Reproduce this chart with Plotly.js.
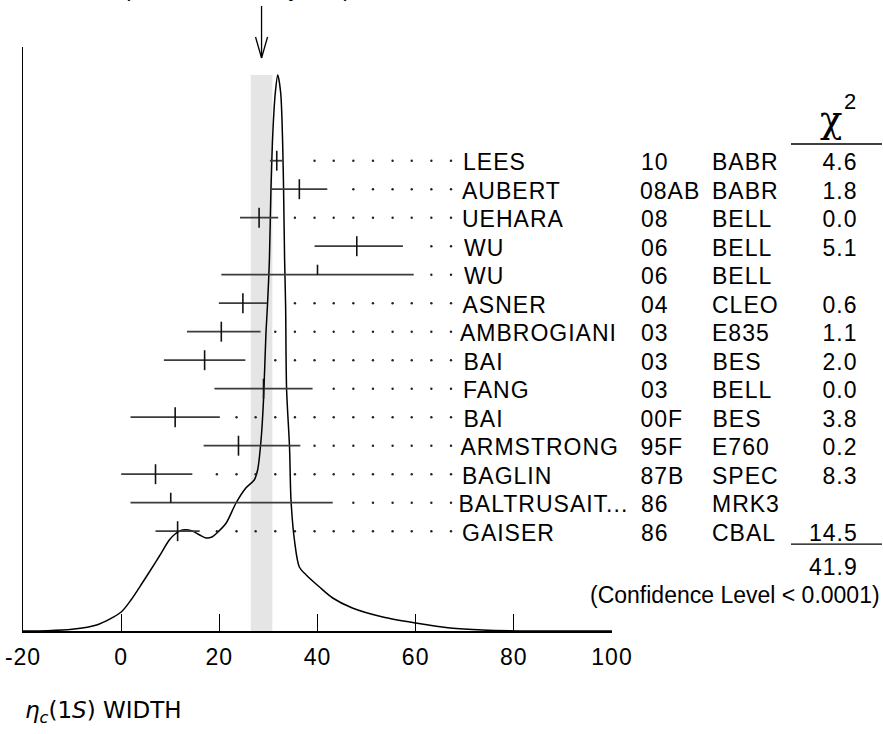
<!DOCTYPE html>
<html>
<head>
<meta charset="utf-8">
<script src="https://cdn.plot.ly/plotly-3.0.1.min.js"></script>
<style>html,body{margin:0;padding:0;background:#fff;}#chart{width:883px;height:734px;}</style>
</head>
<body>
<div id="chart"></div>
<script>
// ---------------- data ----------------
const names = ["LEES","AUBERT","UEHARA","WU","WU","ASNER","AMBROGIANI","BAI","FANG","BAI","ARMSTRONG","BAGLIN","BALTRUSAIT...","GAISER"];
const years = ["10","08AB","08","06","06","04","03","03","03","00F","95F","87B","86","86"];
const expts = ["BABR","BABR","BELL","BELL","BELL","CLEO","E835","BES","BELL","BES","E760","SPEC","MRK3","CBAL"];
const chi2 = ["4.6","1.8","0.0","5.1","","0.6","1.1","2.0","0.0","3.8","0.2","8.3","","14.5"];
const values   = [31.7, 36.3, 28.1, 48.0, 40.0, 24.8, 20.4, 17.0, 29.0, 11.0, 23.9, 7.0, 10.1, 11.5];
const errMinus = [1.4,  5.7,  3.9,  8.6, 19.6,  4.9,  7.0,  8.3, 10.0,  9.1,  7.1, 7.0,  8.2,  4.5];
const errPlus  = [1.4,  5.7,  3.9,  9.4, 19.6,  4.9,  8.0,  8.3, 10.0,  9.1, 12.6, 7.5, 33.0,  4.5];
const usedInFit = [1,1,1,1,0,1,1,1,1,1,1,1,0,1];
const avgValue = 28.6;
const avgError = 2.2;
const chi2Total = "41.9";
const confText = "(Confidence Level &lt; 0.0001)";
const avgText = "28.6±2.2 (Error scaled by 1.9)";
const xTickVals = [-20, 0, 20, 40, 60, 80, 100];
const xTickText = ["-20", "0", "20", "40", "60", "80", "100"];
const leaderGrid = [19.5, 23.5, 27.4, 31.4, 35.4, 39.4, 43.3, 47.3, 51.3, 55.3, 59.2, 63.2, 67.2];
// ideogram curve
const curveX = [-20, -15, -10, -5, 0, 2.0, 4.3, 6.0, 7.8, 9.8, 11.0, 12.5, 14.5, 16.0, 17.3, 18.5, 19.5, 21.4, 23.4, 25.4, 27.1, 27.8, 28.5, 29.0, 29.5, 29.8, 30.2, 30.5, 30.9, 31.4, 31.9, 32.5, 32.9, 33.1, 33.3, 33.5, 33.7, 34.3, 34.6, 35.3, 36.3, 37.7, 40.4, 43.1, 47.1, 53.3, 60, 67, 73.7, 84, 100];
const curveY = [0, 0.3, 1.7, 6, 19, 31, 48, 61, 75, 91, 97, 101, 100, 96, 93, 94, 98, 108, 128, 143, 151, 161, 191, 231, 298, 325, 371, 438, 498, 538, 556, 538, 488, 438, 371, 326, 242, 184, 131, 91, 64, 56, 44, 33, 23, 14, 8, 3, 1, 0, 0];

// ---------------- geometry helpers ----------------
const L = 23, R = 612, T = 47, B = 631;
const W = 883, H = 734;
const px2paperX = p => (p - L) / (R - L);
const px2paperY = p => (B - p) / (B - T);
const rowTop = (T - 160.7) / 28.5;
const rowBottom = rowTop + (B - T) / 28.5;

const font = "Liberation Sans, Arial, Helvetica, sans-serif";

// bars, ticks, dots
const bx = [], by = [], tx = [], ty = [], dx = [], dy = [];
values.forEach((v, i) => {
  const lo = v - errMinus[i], hi = v + errPlus[i];
  bx.push(lo, hi, null); by.push(i, i, null);
  tx.push(v, v, null); ty.push(i - 0.35, usedInFit[i] ? i + 0.35 : i, null);
  leaderGrid.forEach(g => { if (g > hi + 2.5) { dx.push(g); dy.push(i); } });
});

const traces = [
  {x: bx, y: by, yaxis: 'y2', mode: 'lines', line: {color: '#3c3c3c', width: 1.8}, hoverinfo: 'skip', showlegend: false},
  {x: tx, y: ty, yaxis: 'y2', mode: 'lines', line: {color: '#111', width: 1.6}, hoverinfo: 'skip', showlegend: false},
  {x: dx, y: dy, yaxis: 'y2', mode: 'markers', marker: {color: '#222', size: 2.4}, hoverinfo: 'skip', showlegend: false},
  {x: curveX, y: curveY, mode: 'lines', line: {color: '#000', width: 1.5, shape: 'spline', smoothing: 0.8}, hoverinfo: 'skip', showlegend: false}
];

const annotations = [];
const addText = (text, x, y, xanchor, opts = {}) => {
  annotations.push(Object.assign({
    text, x, y, xref: 'paper', yref: 'y2', xanchor, yanchor: 'middle', showarrow: false,
    font: {family: font, size: 23, color: '#000'}
  }, opts));
};
names.forEach((n, i) => {
  addText(n, px2paperX(463), i + 0.05, 'left');
  addText(years[i], px2paperX(640), i + 0.05, 'left');
  addText(expts[i], px2paperX(712), i + 0.05, 'left');
  if (chi2[i]) addText(chi2[i], px2paperX(858), i + 0.05, 'right');
});
addText(chi2Total, px2paperX(858), 14.25, 'right');
addText(confText, px2paperX(882), 15.23, 'right');
// chi^2 header
addText("χ", px2paperX(831), -1.45, 'center', {font: {family: "DejaVu Serif, Liberation Serif, serif", size: 37, color: '#000'}});
addText("2", px2paperX(850), -2.06, 'center', {font: {family: font, size: 22, color: '#000'}});
// axis title
annotations.push({text: "<i>η</i><sub><i>c</i></sub>(1<i>S</i>) WIDTH", xref: 'paper', yref: 'paper',
  x: px2paperX(23), y: px2paperY(712), xanchor: 'left', yanchor: 'middle', showarrow: false,
  font: {family: "DejaVu Sans, sans-serif", size: 23, color: '#000'}});
// clipped weighted average text at the top
annotations.push({text: avgText, xref: 'paper', yref: 'paper',
  x: px2paperX(31), y: px2paperY(3), xanchor: 'left', yanchor: 'bottom', showarrow: false,
  font: {family: font, size: 23, color: '#000'}});

const shapes = [
  {type: 'rect', xref: 'x', yref: 'y', x0: avgValue - avgError, x1: avgValue + avgError, y0: 0, y1: Math.max(...curveY),
   fillcolor: '#e5e5e5', line: {width: 0}, layer: 'below'},
  // arrow
  {type: 'line', xref: 'x', yref: 'paper', xsizemode: 'pixel', ysizemode: 'pixel', xanchor: avgValue, yanchor: 1,
   x0: 0, x1: 0, y0: 41, y1: -11, line: {color: '#000', width: 1.3}},
  {type: 'line', xref: 'x', yref: 'paper', xsizemode: 'pixel', ysizemode: 'pixel', xanchor: avgValue, yanchor: 1,
   x0: -6, x1: 0, y0: 10, y1: -11, line: {color: '#000', width: 1.3}},
  {type: 'line', xref: 'x', yref: 'paper', xsizemode: 'pixel', ysizemode: 'pixel', xanchor: avgValue, yanchor: 1,
   x0: 6, x1: 0, y0: 10, y1: -11, line: {color: '#000', width: 1.3}},
  // chi2 rules
  {type: 'line', xref: 'paper', yref: 'y2', x0: px2paperX(791), x1: px2paperX(882), y0: -0.586, y1: -0.586, line: {color: '#000', width: 1.3}},
  {type: 'line', xref: 'paper', yref: 'y2', x0: px2paperX(791), x1: px2paperX(882), y0: 13.45, y1: 13.45, line: {color: '#000', width: 1.3}}
];

const layout = {
  width: W, height: H,
  margin: {l: L, r: W - R, t: T, b: H - B, pad: 0},
  paper_bgcolor: '#fff', plot_bgcolor: '#fff',
  showlegend: false,
  xaxis: {range: [-20, 100], showline: true, linecolor: '#000', linewidth: 1.5, ticks: 'inside', ticklen: 17,
    tickwidth: 1.2, tickcolor: '#000', tickvals: xTickVals, ticktext: xTickText, showgrid: false, zeroline: false,
    ticklabelstandoff: 5,
    tickfont: {family: font, size: 23, color: '#000'}, fixedrange: true},
  yaxis: {range: [0, B - T], showline: true, linecolor: '#000', linewidth: 1.5, ticks: '', showticklabels: false,
    showgrid: false, zeroline: false, fixedrange: true},
  yaxis2: {overlaying: 'y', range: [rowBottom, rowTop], visible: false, fixedrange: true},
  shapes, annotations
};

Plotly.newPlot('chart', traces, layout, {staticPlot: true, displayModeBar: false}).then(() => {
  document.querySelectorAll('.annotation-text').forEach(el => {
    const ff = el.style.fontFamily || '';
    const t = el.textContent || '';
    if (/DejaVu|Serif/.test(ff) || t.indexOf('Confidence') >= 0 || t === '2') return;
    el.style.letterSpacing = '1px';
  });
  document.querySelectorAll('.xtick text').forEach(el => { el.style.letterSpacing = '1px'; });
});
</script>
</body>
</html>
